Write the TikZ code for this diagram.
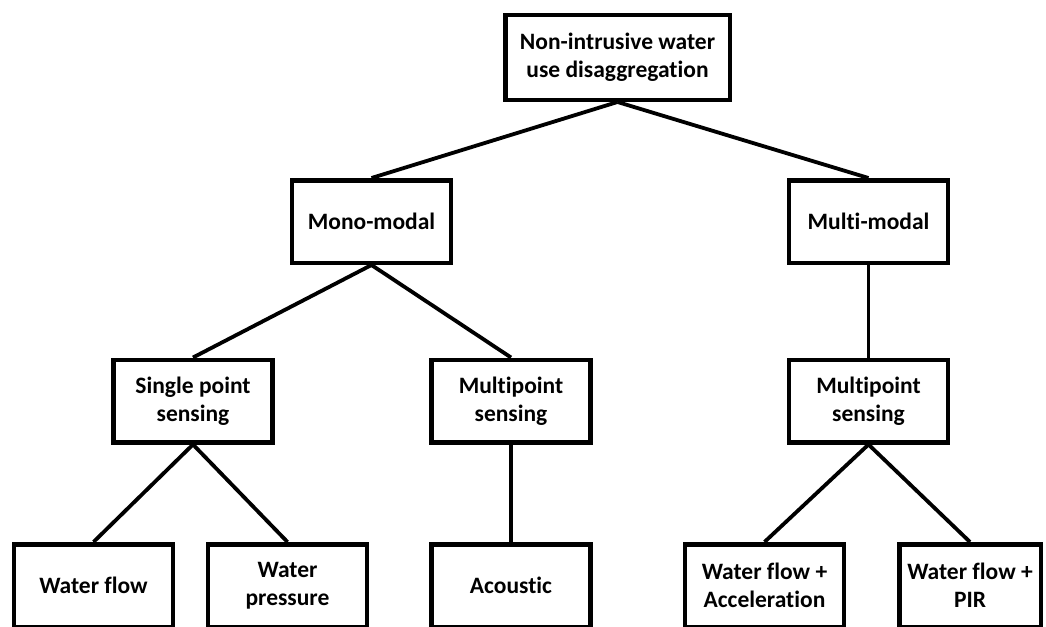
\documentclass[tikz,border=0pt]{standalone}
\usepackage{fontspec}
\setmainfont[Ligatures=NoCommon]{Carlito}
\begin{document}
\begin{tikzpicture}[x=1pt,y=-1pt,
  box/.style={draw=black, line width=4.5pt, fill=white, inner sep=0pt,
    minimum width=159pt, minimum height=82.5pt, align=center,
    font=\fontsize{23.5}{28}\selectfont\bfseries},
  link/.style={line width=3.8pt}]
\useasboundingbox (0,0) rectangle (1046,626);
\node[box, minimum width=224.5pt, minimum height=84.5pt] (root) at (617.5,57.5) {Non-intrusive water\\use disaggregation};
\node[box] (mono) at (371.5,221.5) {Mono-modal};
\node[box] (multi) at (868.5,221.5) {Multi-modal};
\node[box] (single) at (193,401) {Single point\\sensing};
\node[box] (mpl) at (511,401) {Multipoint\\sensing};
\node[box] (mpr) at (868.5,401) {Multipoint\\sensing};
\node[box] (wf) at (93.5,585.5) {Water flow};
\node[box] (wp) at (287.5,585.5) {Water\\pressure};
\node[box] (ac) at (511,585.5) {Acoustic};
\node[box] (wfa) at (764.5,585.5) {Water flow +\\Acceleration};
\node[box, minimum width=141.5pt] (wfp) at (970,585.5) {Water flow +\\PIR};
\draw[link] (root.south) -- (mono.north);
\draw[link] (root.south) -- (multi.north);
\draw[link] (mono.south) -- (single.north);
\draw[link] (mono.south) -- (mpl.north);
\draw[link] (multi.south) -- (mpr.north);
\draw[link] (single.south) -- (wf.north);
\draw[link] (single.south) -- (wp.north);
\draw[link] (mpl.south) -- (ac.north);
\draw[link] (mpr.south) -- (wfa.north);
\draw[link] (mpr.south) -- (wfp.north);
\end{tikzpicture}
\end{document}
